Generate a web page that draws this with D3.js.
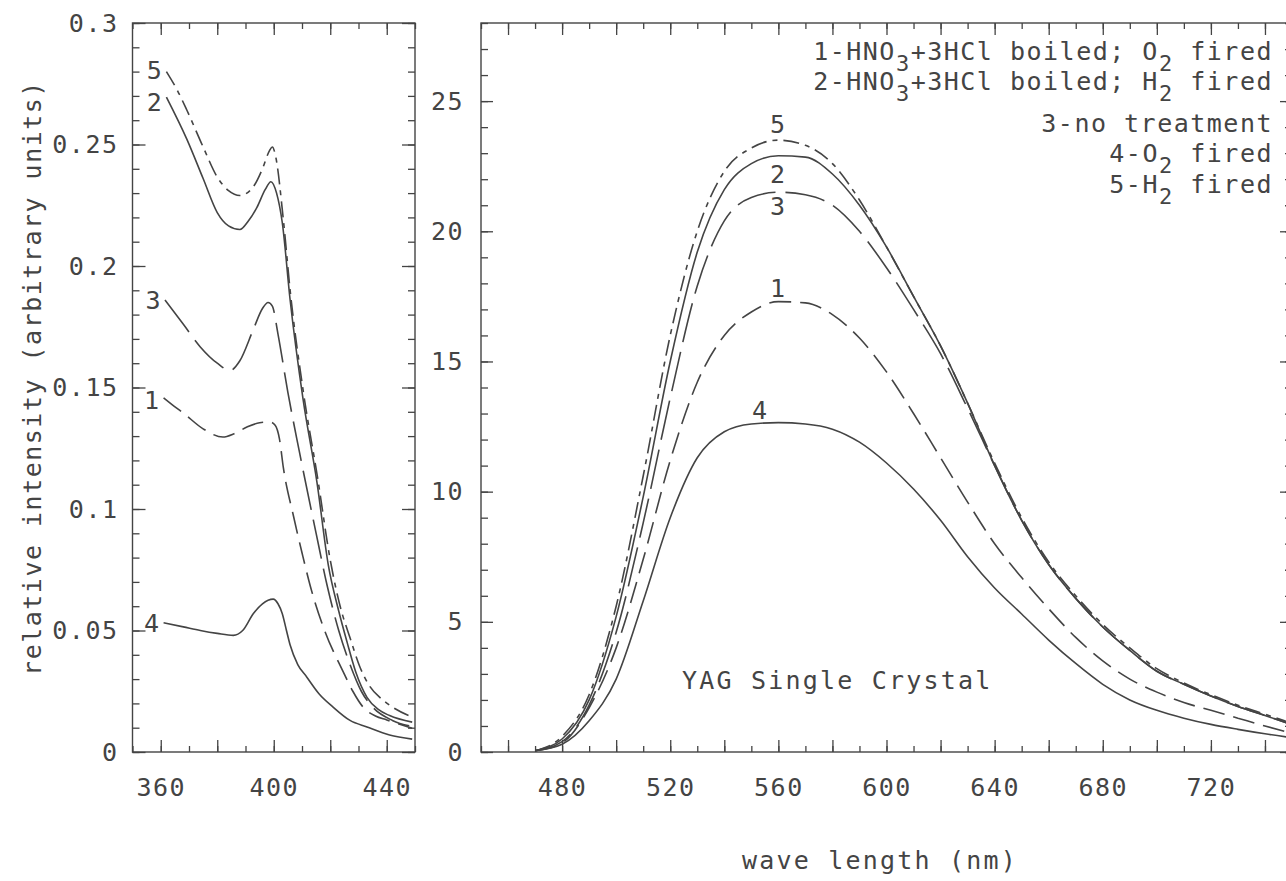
<!DOCTYPE html>
<html>
<head>
<meta charset="utf-8">
<script src="https://cdn.jsdelivr.net/npm/d3@7"></script>
<style>
  body { margin: 0; background: #fff; }
  svg { display: block; }
  .lbl { font-family: "DejaVu Sans Mono", monospace; font-size: 25px; letter-spacing: 1.5px; fill: #444; }
</style>
</head>
<body>
<script>
// ---- data ----

// left panel: excitation spectra, [wavelength nm, relative intensity]
var exc1 = [[361,0.1457],[364,0.143],[368,0.1395],[375,0.133],[382,0.1296],[386,0.131],[390.5,0.1337],[395,0.1355],[398.7,0.1358],[400.5,0.1345],[402,0.129],[403.4,0.117],[407,0.097],[410,0.082],[413,0.068],[418,0.050],[424.6,0.033],[428,0.025],[431.6,0.0185],[436,0.0148],[440,0.0132],[449,0.0098]];
var exc2 = [[362,0.2695],[369.3,0.252],[375,0.236],[380,0.222],[384,0.2165],[388,0.215],[391,0.2185],[394,0.224],[397,0.2315],[399,0.2347],[401,0.230],[403,0.218],[405.8,0.186],[410.4,0.145],[415.3,0.111],[419.3,0.077],[423,0.058],[426,0.045],[429,0.033],[433,0.0225],[437,0.0175],[441,0.015],[449,0.0123]];
var exc3 = [[361.5,0.186],[368,0.176],[374,0.1667],[380,0.160],[384.5,0.157],[388,0.161],[392.7,0.1737],[396,0.1825],[398,0.185],[399.5,0.1835],[401.5,0.172],[405,0.148],[409,0.124],[415,0.09],[419,0.068],[423,0.050],[427,0.036],[431,0.025],[435,0.0185],[442,0.013],[449,0.0105]];
var exc4 = [[361,0.0532],[368,0.0515],[374,0.050],[380,0.0488],[385.7,0.048],[389,0.050],[392.8,0.057],[396,0.061],[399.8,0.0629],[401.5,0.061],[403,0.057],[404.5,0.050],[405.8,0.044],[408.5,0.036],[411.6,0.031],[416,0.024],[421,0.0185],[427,0.013],[433,0.0103],[441,0.007],[449,0.0053]];
var exc5 = [[362,0.280],[366,0.272],[369.3,0.264],[375,0.249],[380,0.2366],[384,0.231],[388,0.229],[392.7,0.2325],[396,0.240],[398.5,0.2475],[399.5,0.249],[400.6,0.2455],[403.4,0.219],[405.8,0.19],[410.5,0.148],[415.5,0.113],[420,0.079],[423.5,0.060],[427,0.047],[430.5,0.035],[434,0.027],[438,0.022],[442,0.0185],[449,0.0144]];

// right panel: emission spectra sampled every 10 nm
var emNm = [470,480,490,500,510,520,530,540,550,560,570,580,590,600,610,620,630,640,650,660,670,680,690,700,710,720,730,740,750];
var em1 = [0.05,0.35,1.7,4.0,7.4,11.2,14.2,16.0,16.9,17.3,17.25,16.8,15.9,14.6,13.0,11.3,9.6,8.0,6.7,5.5,4.4,3.5,2.8,2.3,1.9,1.6,1.3,1.0,0.72];
var em2 = [0.05,0.5,2.0,5.2,9.8,15.0,19.2,21.6,22.6,22.9,22.85,22.2,21.0,19.4,17.5,15.6,13.4,11.0,8.9,7.2,5.9,4.8,3.9,3.1,2.6,2.15,1.75,1.4,1.05];
var em3 = [0.05,0.4,1.8,4.6,8.8,13.6,17.9,20.4,21.3,21.5,21.4,21.0,20.0,18.6,17.0,15.3,13.2,11.0,8.9,7.2,5.9,4.8,3.9,3.1,2.6,2.15,1.75,1.4,1.05];
var em4 = [0.05,0.3,1.2,2.8,5.8,9.0,11.3,12.3,12.6,12.65,12.6,12.4,11.9,11.1,10.1,8.9,7.5,6.3,5.3,4.3,3.4,2.6,2.0,1.6,1.3,1.06,0.87,0.7,0.55];
var em5 = [0.05,0.6,2.2,5.6,10.6,16.0,20.0,22.3,23.2,23.5,23.3,22.6,21.2,19.4,17.5,15.6,13.4,11.1,9.0,7.3,6.0,4.9,4.0,3.2,2.65,2.2,1.8,1.45,1.1];

// tick labels
var leftXTicks = [360, 400, 440];
var leftYTicks = [0, 0.05, 0.1, 0.15, 0.2, 0.25, 0.3];
var leftYLabels = ["0", "0.05", "0.1", "0.15", "0.2", "0.25", "0.3"];
var rightXTicks = [480, 520, 560, 600, 640, 680, 720];
var rightYTicks = [0, 5, 10, 15, 20, 25];

// legend text, [text, isSubscript]
var legendLines = [
    [["1-HNO",0],["3",1],["+3HCl boiled; O",0],["2",1],[" fired",0]],
    [["2-HNO",0],["3",1],["+3HCl boiled; H",0],["2",1],[" fired",0]],
    [["3-no treatment",0]],
    [["4-O",0],["2",1],[" fired",0]],
    [["5-H",0],["2",1],[" fired",0]]
];

// ---- drawing ----
var w = 1286, h = 881;
var svg = d3.select("body").append("svg")
    .attr("width", w)
    .attr("height", h);

// dash styles per curve number
var dash = { "1": "22,9", "2": null, "3": "40,10", "4": null, "5": "16,6,5,6" };
var ink = "#444";

// scales
var x1 = d3.scaleLinear().domain([350, 450]).range([132.5, 415]);
var y1 = d3.scaleLinear().domain([0, 0.3]).range([752, 23]);
var x2 = d3.scaleLinear().domain([450, 750]).range([481, 1292]);
var y2 = d3.scaleLinear().domain([0, 28]).range([752, 23]);

//tick helper: draws inward ticks, no domain path
function ticks(axis, tx, ty, values, size){
    var g = svg.append("g")
        .attr("transform", "translate(" + tx + "," + ty + ")")
        .call(axis.tickValues(values).tickSize(-size).tickFormat(""));
    g.select(".domain").remove();
    g.selectAll("line").attr("stroke", ink).attr("stroke-width", 1.3);
    return g;
}

// left panel frame
svg.append("rect")
    .attr("x", x1(350)).attr("y", y1(0.3))
    .attr("width", x1(450) - x1(350)).attr("height", y1(0) - y1(0.3))
    .attr("fill", "none").attr("stroke", ink).attr("stroke-width", 1.4);

var lxMinor = d3.range(350, 451, 10), lxMajor = d3.range(360, 441, 20);
var lyMinor = d3.range(0, 31).map(function(d){ return d / 100; });
ticks(d3.axisBottom(x1), 0, y1(0), lxMinor, 6);
ticks(d3.axisBottom(x1), 0, y1(0), lxMajor, 12);
ticks(d3.axisTop(x1), 0, y1(0.3), lxMinor, 6);
ticks(d3.axisTop(x1), 0, y1(0.3), lxMajor, 12);
ticks(d3.axisLeft(y1), x1(350), 0, lyMinor, 7);
ticks(d3.axisLeft(y1), x1(350), 0, leftYTicks, 13);
ticks(d3.axisRight(y1), x1(450), 0, lyMinor, 7);
ticks(d3.axisRight(y1), x1(450), 0, leftYTicks, 13);

// right panel frame
svg.append("rect")
    .attr("x", x2(450)).attr("y", y2(28))
    .attr("width", x2(750) - x2(450)).attr("height", y2(0) - y2(28))
    .attr("fill", "none").attr("stroke", ink).attr("stroke-width", 1.4);

var rxMinor = d3.range(450, 751, 10), rxMajor = d3.range(460, 741, 20);
var ryMinor = d3.range(0, 29);
ticks(d3.axisBottom(x2), 0, y2(0), rxMinor, 6);
ticks(d3.axisBottom(x2), 0, y2(0), rxMajor, 12);
ticks(d3.axisTop(x2), 0, y2(28), rxMinor, 6);
ticks(d3.axisTop(x2), 0, y2(28), rxMajor, 12);
ticks(d3.axisLeft(y2), x2(450), 0, ryMinor, 7);
ticks(d3.axisLeft(y2), x2(450), 0, rightYTicks, 12);
ticks(d3.axisRight(y2), x2(750), 0, ryMinor, 7);
ticks(d3.axisRight(y2), x2(750), 0, rightYTicks, 12);

//tick label helper
function labels(axis, tx, ty, values, fmt, pad){
    var g = svg.append("g")
        .attr("transform", "translate(" + tx + "," + ty + ")")
        .call(axis.tickValues(values).tickSize(0).tickPadding(pad).tickFormat(fmt));
    g.select(".domain").remove();
    g.attr("font-family", null).attr("font-size", null);
    g.selectAll("text").attr("class", "lbl");
    return g;
}

labels(d3.axisBottom(x1), 0, y1(0), leftXTicks, function(d){ return d; }, 26);
labels(d3.axisLeft(y1), x1(350), 0, leftYTicks, function(d, i){ return leftYLabels[i]; }, 14);
labels(d3.axisBottom(x2), 0, y2(0), rightXTicks, function(d){ return d; }, 26);
labels(d3.axisLeft(y2), x2(450), 0, rightYTicks, function(d){ return d; }, 17);

// curves
var line1 = d3.line()
    .x(function(d){ return x1(d[0]); })
    .y(function(d){ return y1(d[1]); })
    .curve(d3.curveMonotoneX);

var excSeries = [["1", exc1], ["2", exc2], ["3", exc3], ["4", exc4], ["5", exc5]];
svg.selectAll(".exc")
    .data(excSeries)
    .enter()
    .append("path")
    .attr("class", "exc")
    .attr("d", function(d){ return line1(d[1]); })
    .attr("fill", "none")
    .attr("stroke", ink)
    .attr("stroke-width", 1.6)
    .attr("stroke-dasharray", function(d){ return dash[d[0]]; });

// curve numbers at the start of each left curve
var startNudge = { "1": 2, "2": 5, "3": 0, "4": 0, "5": -2 };
svg.selectAll(".excLabel")
    .data(excSeries)
    .enter()
    .append("text")
    .attr("class", "lbl")
    .attr("text-anchor", "end")
    .attr("x", function(d){ return x1(d[1][0][0]) - 3; })
    .attr("y", function(d){ return y1(d[1][0][1]) + startNudge[d[0]]; })
    .attr("dy", "0.36em")
    .text(function(d){ return d[0]; });

var line2 = d3.line()
    .x(function(d, i){ return x2(emNm[i]); })
    .y(function(d){ return y2(d); })
    .curve(d3.curveMonotoneX);

var emSeries = [["1", em1], ["2", em2], ["3", em3], ["4", em4], ["5", em5]];
svg.selectAll(".em")
    .data(emSeries)
    .enter()
    .append("path")
    .attr("class", "em")
    .attr("d", function(d){ return line2(d[1]); })
    .attr("fill", "none")
    .attr("stroke", ink)
    .attr("stroke-width", 1.6)
    .attr("stroke-dasharray", function(d){ return dash[d[0]]; });

// curve numbers near each peak (offset in px from the peak)
var peakOffset = { "1": -14, "2": 18, "3": 14, "4": -13, "5": -16 };
var peakShift = { "1": 0, "2": 0, "3": 0, "4": -18, "5": 0 };
svg.selectAll(".emLabel")
    .data(emSeries)
    .enter()
    .append("text")
    .attr("class", "lbl")
    .attr("text-anchor", "middle")
    .attr("x", function(d){ return x2(560) + peakShift[d[0]]; })
    .attr("y", function(d){ return y2(d3.max(d[1])) + peakOffset[d[0]]; })
    .attr("dy", "0.36em")
    .style("stroke", function(d){ return d[0] === "3" ? "#fff" : null; })
    .style("stroke-width", 6)
    .style("paint-order", "stroke")
    .text(function(d){ return d[0]; });

// legend, right aligned in the upper right corner
var legend = svg.selectAll(".legend")
    .data(legendLines)
    .enter()
    .append("text")
    .attr("class", "lbl")
    .attr("text-anchor", "end")
    .attr("x", 1273)
    .attr("y", function(d, i){ return [60, 90, 132, 162, 193][i]; });

legend.each(function(parts){
    var t = d3.select(this);
    parts.forEach(function(p, j){
        var prevSub = j > 0 && parts[j - 1][1];
        t.append("tspan")
            .attr("dy", p[1] ? 11 : (prevSub ? -11 : 0))
            .style("font-size", p[1] ? "22px" : null)
            .text(p[0]);
    });
});

// panel note
svg.append("text")
    .attr("class", "lbl")
    .attr("x", 682)
    .attr("y", 689)
    .style("letter-spacing", "2.2px")
    .text("YAG Single Crystal");

// axis titles
svg.append("text")
    .attr("class", "lbl")
    .attr("text-anchor", "middle")
    .attr("transform", "translate(41,378) rotate(-90)")
    .text("relative intensity (arbitrary units)");

svg.append("text")
    .attr("class", "lbl")
    .attr("text-anchor", "middle")
    .attr("x", 880)
    .attr("y", 869)
    .style("letter-spacing", "2.2px")
    .text("wave length (nm)");
</script>
</body>
</html>
